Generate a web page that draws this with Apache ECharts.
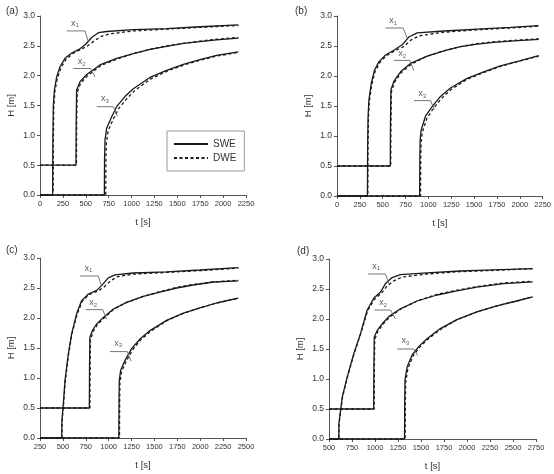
<!DOCTYPE html>
<html>
<head>
<meta charset="utf-8">
<script src="https://cdn.jsdelivr.net/npm/echarts@6/dist/echarts.min.js"></script>
<style>
  html, body { margin: 0; padding: 0; background: #fff; }
  #main { width: 554px; height: 474px; }
</style>
</head>
<body>
<div id="main"></div>
<script>
// ---- data: [t (s), H (m)] ----
// (a)
const a1S = [[0,0],[138,0],[140,0.8],[145,1.48],[157,1.76],[182,1.98],[218,2.15],[273,2.29],[346,2.38],[437,2.45],[502,2.53],[564,2.64],[637,2.72],[728,2.74],[1019,2.77],[1383,2.79],[1747,2.82],[2166,2.85]];
const a1D = [[0,0],[143,0],[145,0.8],[150,1.45],[163,1.74],[190,1.96],[228,2.13],[283,2.27],[356,2.37],[447,2.44],[520,2.5],[590,2.58],[670,2.66],[760,2.7],[1019,2.75],[1383,2.78],[1747,2.81],[2166,2.84]];
const a2S = [[0,0.5],[393,0.5],[395,1.2],[400,1.76],[437,1.9],[510,2.02],[655,2.18],[837,2.29],[1019,2.37],[1201,2.44],[1383,2.49],[1565,2.54],[1747,2.57],[1929,2.6],[2166,2.63]];
const a2D = [[0,0.5],[398,0.5],[400,1.2],[406,1.72],[445,1.88],[520,2.0],[665,2.17],[845,2.28],[1019,2.37],[1201,2.44],[1383,2.5],[1565,2.54],[1747,2.58],[1929,2.61],[2166,2.64]];
const a3S = [[0,0],[703,0],[705,0.6],[710,0.92],[728,1.12],[783,1.31],[837,1.48],[928,1.65],[1019,1.78],[1201,1.97],[1383,2.09],[1565,2.19],[1747,2.27],[1929,2.34],[2166,2.4]];
const a3D = [[0,0],[718,0],[720,0.6],[725,0.88],[745,1.08],[800,1.27],[855,1.44],[945,1.61],[1035,1.75],[1215,1.95],[1395,2.08],[1575,2.18],[1755,2.26],[1935,2.33],[2166,2.39]];
// (b)
const b1S = [[0,0],[333,0],[335,0.8],[340,1.33],[349,1.6],[375,1.88],[411,2.1],[459,2.24],[531,2.35],[622,2.43],[713,2.52],[786,2.65],[877,2.72],[1169,2.75],[1533,2.78],[1897,2.81],[2206,2.84]];
const b1D = [[0,0],[337,0],[339,0.8],[344,1.3],[354,1.58],[381,1.86],[418,2.08],[467,2.22],[540,2.34],[632,2.42],[730,2.49],[810,2.6],[900,2.67],[1169,2.73],[1533,2.77],[1897,2.8],[2206,2.83]];
const b2S = [[0,0.5],[583,0.5],[585,1.2],[590,1.77],[622,1.91],[695,2.07],[804,2.21],[987,2.33],[1169,2.42],[1351,2.49],[1533,2.53],[1715,2.56],[1897,2.58],[2206,2.61]];
const b2D = [[0,0.5],[588,0.5],[590,1.2],[596,1.74],[630,1.9],[705,2.06],[815,2.2],[987,2.33],[1169,2.42],[1351,2.49],[1533,2.54],[1715,2.57],[1897,2.59],[2206,2.62]];
const b3S = [[0,0],[904,0],[906,0.6],[910,0.94],[921,1.1],[968,1.33],[1041,1.49],[1132,1.66],[1241,1.8],[1423,1.96],[1605,2.07],[1787,2.17],[1969,2.24],[2206,2.34]];
const b3D = [[0,0],[914,0],[916,0.6],[920,0.9],[933,1.06],[982,1.29],[1055,1.46],[1145,1.63],[1252,1.78],[1430,1.95],[1610,2.06],[1790,2.16],[1970,2.24],[2206,2.33]];
// (c)
const c1S = [[250,0],[487,0],[490,0.3],[505,0.57],[523,0.96],[559,1.4],[596,1.74],[650,2.07],[705,2.29],[778,2.4],[869,2.46],[923,2.54],[996,2.67],[1069,2.72],[1269,2.75],[1633,2.77],[1997,2.8],[2416,2.84]];
const c1D = [[250,0],[489,0],[492,0.3],[508,0.57],[527,0.96],[563,1.4],[600,1.74],[655,2.06],[712,2.28],[785,2.39],[880,2.45],[945,2.51],[1020,2.62],[1100,2.69],[1269,2.73],[1633,2.76],[1997,2.79],[2416,2.83]];
const c2S = [[250,0.5],[789,0.5],[791,1.2],[795,1.68],[825,1.8],[869,1.9],[942,2.01],[1051,2.15],[1196,2.26],[1378,2.36],[1560,2.43],[1743,2.5],[1925,2.55],[2143,2.6],[2416,2.62]];
const c2D = [[250,0.5],[795,0.5],[797,1.2],[801,1.64],[832,1.78],[876,1.89],[950,2.0],[1060,2.15],[1196,2.26],[1378,2.36],[1560,2.44],[1743,2.51],[1925,2.56],[2143,2.6],[2416,2.63]];
const c3S = [[250,0],[1111,0],[1113,0.6],[1116,0.96],[1131,1.13],[1178,1.29],[1251,1.49],[1342,1.65],[1451,1.79],[1633,1.96],[1815,2.08],[1997,2.17],[2179,2.25],[2416,2.33]];
const c3D = [[250,0],[1118,0],[1120,0.6],[1123,0.92],[1140,1.1],[1188,1.27],[1262,1.47],[1352,1.64],[1460,1.78],[1640,1.96],[1820,2.08],[2000,2.17],[2180,2.25],[2416,2.33]];
// (d)
const d1S = [[500,0],[606,0],[608,0.26],[644,0.7],[699,1.04],[771,1.43],[843,1.76],[915,2.15],[988,2.35],[1060,2.45],[1114,2.59],[1186,2.69],[1276,2.74],[1565,2.77],[1927,2.8],[2288,2.82],[2714,2.84]];
const d1D = [[500,0],[608,0],[610,0.26],[647,0.7],[702,1.04],[774,1.43],[846,1.76],[920,2.14],[995,2.33],[1070,2.43],[1130,2.55],[1210,2.64],[1300,2.7],[1565,2.75],[1927,2.79],[2288,2.81],[2714,2.84]];
const d2S = [[500,0.5],[986,0.5],[988,1.2],[992,1.7],[1024,1.81],[1078,1.92],[1150,2.04],[1276,2.17],[1457,2.3],[1674,2.4],[1890,2.47],[2107,2.53],[2396,2.59],[2714,2.62]];
const d2D = [[500,0.5],[991,0.5],[993,1.2],[997,1.66],[1030,1.79],[1085,1.91],[1158,2.03],[1285,2.17],[1457,2.3],[1674,2.41],[1890,2.48],[2107,2.54],[2396,2.6],[2714,2.63]];
const d3S = [[500,0],[1321,0],[1323,0.6],[1326,0.98],[1349,1.2],[1403,1.4],[1475,1.54],[1565,1.67],[1710,1.84],[1890,1.99],[2107,2.12],[2324,2.22],[2540,2.3],[2714,2.37]];
const d3D = [[500,0],[1328,0],[1330,0.6],[1333,0.94],[1357,1.17],[1412,1.38],[1484,1.53],[1572,1.66],[1716,1.83],[1895,1.99],[2110,2.12],[2326,2.22],[2540,2.3],[2714,2.37]];

// leader lines for the x1/x2/x3 callouts (data coords), and label anchors
const leadA = [[[291,2.75],[491,2.75],[528,2.57]], [[364,2.12],[553,2.12],[601,1.98]], [[619,1.48],[801,1.48],[845,1.32]]];
const leadB = [[[531,2.8],[724,2.8],[768,2.63]], [[622,2.26],[797,2.26],[841,2.09]], [[841,1.59],[1023,1.59],[1067,1.44]]];
const leadC = [[[687,2.7],[887,2.7],[923,2.52]], [[752,2.14],[934,2.14],[978,1.98]], [[1014,1.44],[1204,1.44],[1244,1.28]]];
const leadD = [[[926,2.75],[1114,2.75],[1150,2.59]], [[995,2.15],[1168,2.15],[1222,2.0]], [[1240,1.5],[1421,1.5],[1464,1.39]]];
const tagA = [[382,2.88,'1'],[455,2.24,'2'],[710,1.61,'3']];
const tagB = [[615,2.92,'1'],[713,2.37,'2'],[932,1.71,'3']];
const tagC = [[778,2.83,'1'],[832,2.26,'2'],[1105,1.58,'3']];
const tagD = [[1013,2.88,'1'],[1089,2.27,'2'],[1331,1.64,'3']];

const panelNames = ['(a)', '(b)', '(c)', '(d)'];
const xMin = [0, 0, 250, 500];
const xMax = [2250, 2250, 2500, 2750];

const sweSets = [[a1S,a2S,a3S],[b1S,b2S,b3S],[c1S,c2S,c3S],[d1S,d2S,d3S]];
const dweSets = [[a1D,a2D,a3D],[b1D,b2D,b3D],[c1D,c2D,c3D],[d1D,d2D,d3D]];
const leads = [leadA, leadB, leadC, leadD];
const tags = [tagA, tagB, tagC, tagD];

const FONT = 'Liberation Sans';
const grids = [
  {left: 40, top: 16, width: 206, height: 179},
  {left: 337, top: 16, width: 206, height: 180},
  {left: 40, top: 258, width: 206, height: 180},
  {left: 329, top: 259, width: 207, height: 180}
];
const titlePos = [[1, 1], [290, 1], [1, 240], [292, 241]];

const chart = echarts.init(document.getElementById('main'), null, {renderer: 'canvas'});

const xAxes = [], yAxes = [], series = [], titles = [];
for (let i = 0; i < 4; i++) {
  titles.push({
    text: panelNames[i], left: titlePos[i][0], top: titlePos[i][1],
    textStyle: {fontFamily: FONT, fontSize: 10, fontWeight: 'normal', color: '#333'}
  });
  xAxes.push({
    type: 'value', gridIndex: i, min: xMin[i], max: xMax[i], interval: 250,
    name: 't [s]', nameLocation: 'middle', nameGap: 22,
    nameTextStyle: {fontFamily: FONT, fontSize: 9.5, color: '#333'},
    axisLine: {lineStyle: {color: '#555', width: 1}},
    axisTick: {show: true, length: 3, lineStyle: {color: '#555'}},
    axisLabel: {fontFamily: FONT, fontSize: 7.5, color: '#333', margin: 5,
      formatter: v => String(v)},
    splitLine: {show: false}
  });
  yAxes.push({
    type: 'value', gridIndex: i, min: 0, max: 3, interval: 0.5,
    name: 'H [m]', nameLocation: 'middle', nameGap: 24,
    nameTextStyle: {fontFamily: FONT, fontSize: 9.5, color: '#333'},
    axisLine: {show: true, lineStyle: {color: '#555', width: 1}},
    axisTick: {show: true, length: 3, lineStyle: {color: '#555'}},
    axisLabel: {fontFamily: FONT, fontSize: 8.5, color: '#333', margin: 5,
      formatter: v => v.toFixed(1)},
    splitLine: {show: false}
  });
  sweSets[i].forEach(d => series.push({
    name: 'SWE', type: 'line', xAxisIndex: i, yAxisIndex: i, data: d,
    showSymbol: false, symbol: 'none', smooth: false,
    lineStyle: {color: '#1a1a1a', width: 1.3, type: 'solid'}, color: '#1a1a1a',
    z: 3, silent: true
  }));
  dweSets[i].forEach(d => series.push({
    name: 'DWE', type: 'line', xAxisIndex: i, yAxisIndex: i, data: d,
    showSymbol: false, symbol: 'none', smooth: false,
    lineStyle: {color: '#1a1a1a', width: 1.3, type: [3, 2.5]}, color: '#1a1a1a',
    z: 2, silent: true
  }));
  leads[i].forEach(d => series.push({
    type: 'line', xAxisIndex: i, yAxisIndex: i, data: d,
    symbol: 'none', lineStyle: {color: '#666', width: 0.9}, silent: true, z: 4
  }));
  series.push({
    type: 'scatter', xAxisIndex: i, yAxisIndex: i, symbolSize: 0, silent: true,
    data: tags[i].map(t => ({value: [t[0], t[1]], sub: t[2]})),
    label: {
      show: true, position: 'inside',
      formatter: p => '{x|x}{s|' + p.data.sub + '}',
      rich: {
        x: {fontFamily: FONT, fontSize: 9, color: '#333'},
        s: {fontFamily: FONT, fontSize: 6, color: '#333', padding: [5, 0, 0, 0]}
      }
    }
  });
}

chart.setOption({
  backgroundColor: '#fff',
  animation: false,
  title: titles,
  grid: grids,
  xAxis: xAxes,
  yAxis: yAxes,
  legend: {
    data: ['SWE', 'DWE'], orient: 'vertical', left: 167, top: 131,
    width: 76, itemWidth: 34, itemHeight: 12, itemGap: 4,
    padding: [8, 8, 8, 6],
    borderColor: '#999', borderWidth: 1,
    itemStyle: {opacity: 0},
    textStyle: {fontFamily: FONT, fontSize: 10, color: '#333'},
    selectedMode: false
  },
  series: series
});
</script>
</body>
</html>
